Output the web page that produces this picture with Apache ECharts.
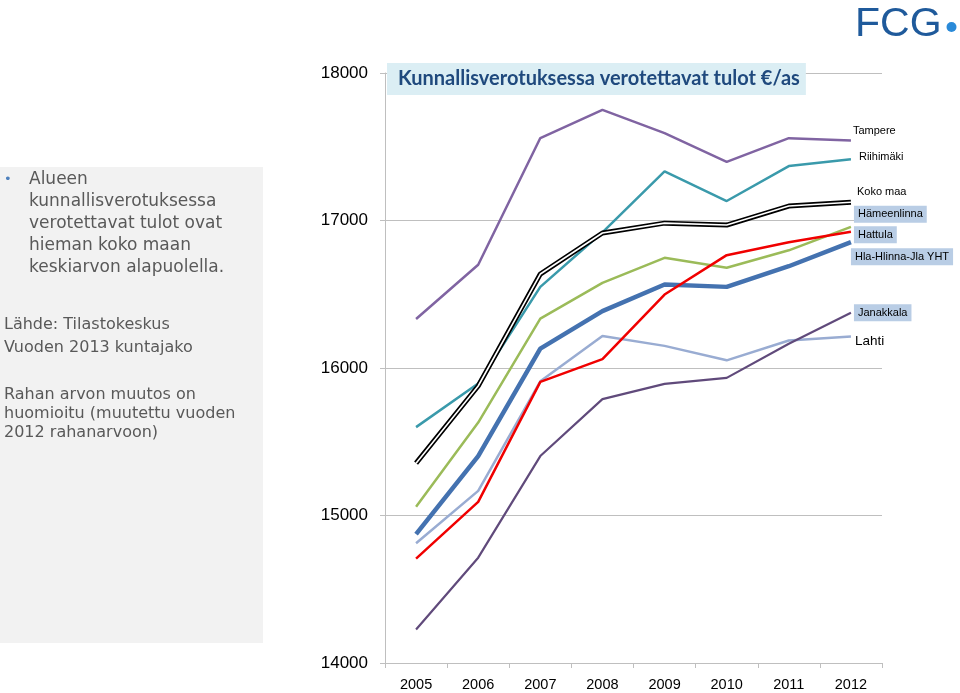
<!DOCTYPE html>
<html>
<head>
<meta charset="utf-8">
<script src="https://cdn.jsdelivr.net/npm/echarts@6/dist/echarts.min.js"></script>
<style>
html,body{margin:0;padding:0;background:#fff;}
#chart{width:960px;height:693px;}
</style>
</head>
<body>
<div id="chart"></div>
<script>
// ---- data ----
var years = ['2005','2006','2007','2008','2009','2010','2011','2012'];
var yTicks = [14000, 15000, 16000, 17000, 18000];
var tampere    = [16332, 16700, 17559, 17750, 17592, 17398, 17558, 17543];
var riihimaki  = [15599, 15895, 16550, 16920, 17333, 17132, 17369, 17416];
var kokoMaa    = [15355, 15878, 16637, 16915, 16982, 16969, 17098, 17124];
var hameenlinna= [15059, 15630, 16335, 16577, 16747, 16680, 16798, 16957];
var hattula    = [14708, 15092, 15906, 16060, 16498, 16765, 16852, 16923];
var hlaYht     = [14874, 15403, 16131, 16386, 16566, 16550, 16690, 16853];
var lahti      = [14812, 15167, 15910, 16217, 16150, 16052, 16186, 16214];
var janakkala  = [14227, 14714, 15403, 15789, 15892, 15933, 16165, 16374];
var seriesNames = ['Tampere','Riihimäki','Koko maa','Hämeenlinna','Hattula','Hla-Hlinna-Jla YHT','Janakkala','Lahti'];
var titleText = 'Kunnallisverotuksessa verotettavat tulot €/as';

var chart = echarts.init(document.getElementById('chart'), null, {renderer:'canvas'});

function line(name, data, color, width, z) {
  return {type:'line', name:name, data:data, symbol:'none', z:z||2,
    lineStyle:{color:color, width:width}, itemStyle:{color:color}, silent:true};
}

var series = [
  line('Hla-Hlinna-Jla YHT', hlaYht, '#4472B0', 4.5, 2),
  line('Lahti', lahti, '#99ACD2', 2.5, 3),
  line('Hämeenlinna', hameenlinna, '#9BBB59', 2.5, 3),
  line('Janakkala', janakkala, '#604A7B', 2.2, 3),
  line('Riihimäki', riihimaki, '#3A9AAB', 2.5, 3),
  line('Tampere', tampere, '#8064A2', 2.5, 3),
  line('Hattula', hattula, '#F00000', 2.5, 4),
  line('Koko maa', kokoMaa, '#000000', 5, 5),
  line('Koko maa ', kokoMaa, '#FFFFFF', 1.6, 6)
];

chart.setOption({
  animation:false,
  title:{
    text:titleText, left:387, top:63,
    backgroundColor:'#DBEEF4', padding:[6,6,6,11],
    textStyle:{color:'#1F497D', fontSize:20, fontWeight:'bold', fontFamily:'Lato'}
  },
  grid:{left:385, right:78, top:73, bottom:30},
  xAxis:{
    type:'category', data:years, boundaryGap:true,
    axisLine:{lineStyle:{color:'#BFBFBF', width:1}},
    axisTick:{show:true, length:5, lineStyle:{color:'#BFBFBF'}},
    axisLabel:{color:'#000', fontSize:14.5, fontFamily:'Liberation Sans', margin:14}
  },
  yAxis:{
    type:'value', min:yTicks[0], max:yTicks[yTicks.length-1], interval:1000,
    axisLine:{show:true, lineStyle:{color:'#BFBFBF', width:1}},
    axisTick:{show:true, length:5, lineStyle:{color:'#BFBFBF'}},
    splitLine:{show:true, lineStyle:{color:'#BFBFBF', width:1}},
    axisLabel:{color:'#000', fontSize:17, fontFamily:'Liberation Sans', margin:17,
      formatter:function(v){ return String(v); }}
  },
  series:series
});

// end labels, placed relative to each series' last point through the chart's scales
var labelSpec = [
  {name:'Tampere', data:tampere, dx:2, dy:-9, box:false, size:11},
  {name:'Riihimäki', data:riihimaki, dx:8, dy:-2, box:false, size:11},
  {name:'Koko maa', data:kokoMaa, dx:6, dy:-10, box:false, size:11},
  {name:'Hämeenlinna', data:hameenlinna, dx:3, dy:-12.5, box:true, size:11},
  {name:'Hattula', data:hattula, dx:3, dy:3, box:true, size:11},
  {name:'Hla-Hlinna-Jla YHT', data:hlaYht, dx:0, dy:14.5, box:true, size:11},
  {name:'Janakkala', data:janakkala, dx:3, dy:0, box:true, size:11},
  {name:'Lahti', data:lahti, dx:4, dy:5, box:false, size:13.5}
];

var graphics = [
  {type:'rect', shape:{x:0, y:167, width:263, height:476}, style:{fill:'#F2F2F2'}, z:-1},
  {type:'text', x:4, y:180, style:{text:'•', fill:'#4F81BD', font:'13px DejaVu Sans', verticalAlign:'middle'}},
  {type:'text', x:29, y:169, style:{text:'Alueen\nkunnallisverotuksessa\nverotettavat tulot ovat\nhieman koko maan\nkeskiarvon alapuolella.',
     fill:'#595959', font:'17px DejaVu Sans', lineHeight:22}},
  {type:'text', x:4, y:313, style:{text:'Lähde: Tilastokeskus\nVuoden 2013 kuntajako',
     fill:'#595959', font:'16px DejaVu Sans', lineHeight:23}},
  {type:'text', x:4, y:385, style:{text:'Rahan arvon muutos on\nhuomioitu (muutettu vuoden\n2012 rahanarvoon)',
     fill:'#595959', font:'16px DejaVu Sans', lineHeight:19}},
  {type:'text', x:855, y:4, style:{text:'FCG', fill:'#1F5A9B', font:'41px Liberation Sans'}},
  {type:'circle', shape:{cx:951.5, cy:27, r:5}, style:{fill:'#2A8AD8'}}
];

labelSpec.forEach(function(s){
  var last = s.data.length - 1;
  var p = chart.convertToPixel({xAxisIndex:0, yAxisIndex:0}, [years[last], s.data[last]]);
  var st = {text:s.name, fill:'#000', font:s.size+'px Liberation Sans', verticalAlign:'middle', align:'left'};
  if (s.box) { st.backgroundColor = '#B9CDE5'; st.padding = [3,4,3,4]; }
  graphics.push({type:'text', x:p[0]+s.dx, y:p[1]+s.dy, style:st, z:10});
});

chart.setOption({graphic:graphics});
</script>
</body>
</html>
